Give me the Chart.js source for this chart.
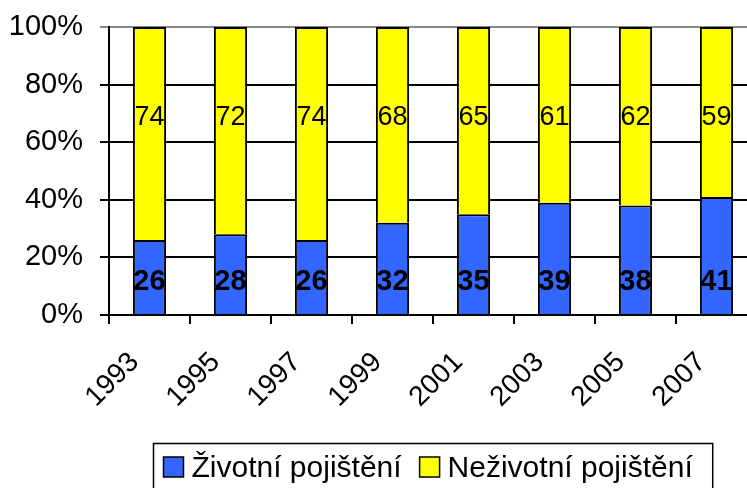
<!DOCTYPE html>
<html>
<head>
<meta charset="utf-8">
<script src="https://cdn.jsdelivr.net/npm/chart.js@4"></script>
<style>
  html, body { margin: 0; padding: 0; overflow: hidden; background: #fff; }
</style>
</head>
<body>
<canvas id="miCanva" width="757" height="488"></canvas>
<script>
const years = ["1993", "1995", "1997", "1999", "2001", "2003", "2005", "2007"];
const zivotni = [26, 28, 26, 32, 35, 39, 38, 41];
const nezivotni = [74, 72, 74, 68, 65, 61, 62, 59];
const yTicks = [0, 20, 40, 60, 80, 100];
const seriesNames = ["Životní pojištění", "Neživotní pojištění"];

const font = "'Liberation Sans', Arial, sans-serif";

// labels sit at roughly the same height in every bar
const labelPlugin = {
  id: "barLabels",
  afterDatasetsDraw(chart) {
    const ctx = chart.ctx;
    const y = chart.scales.y;
    ctx.save();
    ctx.fillStyle = "#000";
    ctx.textAlign = "center";
    ctx.textBaseline = "middle";
    chart.data.datasets.forEach((ds, i) => {
      const meta = chart.getDatasetMeta(i);
      ctx.font = i === 0 ? "bold 29px " + font : "27px " + font;
      const py = y.getPixelForValue(i === 0 ? 11.5 : 68.5);
      meta.data.forEach((bar, j) => {
        ctx.fillText(String(ds.data[j]), bar.x, py);
      });
    });
    ctx.restore();
  },
};

const legendPlugin = {
  id: "boxLegend",
  afterDraw(chart) {
    const ctx = chart.ctx;
    const area = chart.chartArea;
    ctx.save();
    ctx.font = "30px " + font;
    const w1 = ctx.measureText(seriesNames[0]).width;
    const w2 = ctx.measureText(seriesNames[1]).width;
    const sq = 20, gap = 8, pad = 10, between = 18;
    const boxW = pad + sq + gap + w1 + between + sq + gap + w2 + pad + 10;
    const cx = (area.left + area.right) / 2;
    const left = Math.round(cx - boxW / 2) + 0.5;
    const top = 443.5;
    ctx.lineWidth = 1.5;
    ctx.strokeStyle = "#000";
    ctx.strokeRect(left, top, boxW, 60);
    const colors = chart.data.datasets.map(d => d.backgroundColor);
    let x = left + pad;
    const sqTop = 457;
    const base = 477;
    [w1, w2].forEach((w, i) => {
      ctx.fillStyle = colors[i];
      ctx.fillRect(x, sqTop, sq, sq);
      ctx.strokeRect(x, sqTop, sq, sq);
      ctx.fillStyle = "#000";
      ctx.textAlign = "left";
      ctx.textBaseline = "alphabetic";
      ctx.fillText(seriesNames[i], x + sq + gap, base);
      x += sq + gap + w + between;
    });
    ctx.restore();
  },
};

const canvas = document.getElementById("miCanva");
const chart = new Chart(canvas.getContext("2d"), {
  type: "bar",
  data: {
    labels: years,
    datasets: [
      {
        label: seriesNames[0],
        data: zivotni,
        backgroundColor: "#3366FF",
        borderColor: "#000",
        borderWidth: 2,
      },
      {
        label: seriesNames[1],
        data: nezivotni,
        backgroundColor: "#FFFF00",
        borderColor: "#000",
        borderWidth: 2,
      },
    ],
  },
  options: {
    responsive: false,
    animation: false,
    devicePixelRatio: 1,
    layout: { padding: { top: 27, left: 0, right: 0, bottom: 0 } },
    datasets: { bar: { categoryPercentage: 1, barPercentage: 0.41 } },
    plugins: { legend: { display: false }, tooltip: { enabled: false } },
    scales: {
      x: {
        stacked: true,
        grid: {
          offset: true,
          drawOnChartArea: false,
          drawTicks: true,
          tickLength: 9,
          color: "#000",
          lineWidth: 2,
        },
        border: { display: true, color: "#000", width: 2 },
        ticks: {
          minRotation: 45,
          maxRotation: 45,
          color: "#000",
          padding: 22,
          labelOffset: -15,
          font: { family: font, size: 28 },
        },
        afterFit(s) {
          s.height = 173;
          s.paddingLeft = 0;
          s.paddingRight = 0;
        },
      },
      y: {
        stacked: true,
        min: 0,
        max: 100,
        afterBuildTicks(s) { s.ticks = yTicks.map(v => ({ value: v })); },
        grid: {
          color: ctx => (ctx.tick && ctx.tick.value === 100 ? "#888" : "#000"),
          lineWidth: 2,
          tickLength: 9,
        },
        border: { display: true, color: "#000", width: 2 },
        ticks: {
          color: "#000",
          padding: 17,
          font: { family: font, size: 29 },
          callback: v => v + "%",
        },
        afterFit(s) {
          s.width = 109;
          s.paddingTop = 0;
          s.paddingBottom = 0;
        },
      },
    },
  },
  plugins: [labelPlugin, legendPlugin],
});
</script>
</body>
</html>
